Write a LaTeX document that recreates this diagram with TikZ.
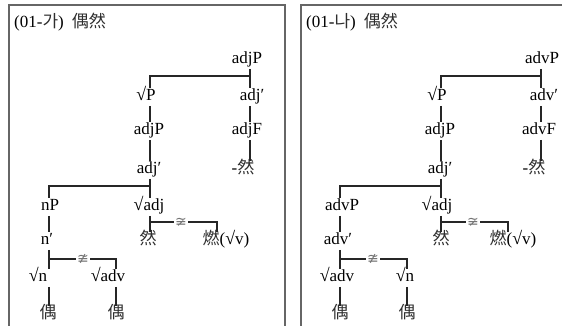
\documentclass[tikz,border=0pt]{standalone}
\usepackage{fontspec}
\setmainfont{Liberation Serif}
\newfontfamily\cjkfont{Noto Sans CJK KR}
\newfontfamily\djv{DejaVu Sans}
\newcommand\rt{{\fontsize{18}{20}\selectfont √}}
\newcommand\pr{′}
\newcommand\cj[1]{{\cjkfont\color{black!82}#1}}
\tikzset{
 lbl/.style={inner sep=1pt, text height=11.5pt, text depth=3.7pt, font=\fontsize{17}{19}\selectfont},
 ttl/.style={anchor=west, inner sep=0pt, font=\fontsize{17}{19}\selectfont},
 edge/.style={line width=1.4pt, black!85},
 neq/.style={fill=white, inner sep=1pt, text=black!55, font=\djv\fontsize{14}{15}\selectfont},
 panel/.style={draw=black!60, line width=1.1pt}
}
\begin{document}
\begin{tikzpicture}[x=1pt,y=-1pt]
\useasboundingbox (0,0) rectangle (562,325);
\clip (0,0) rectangle (562,325);
\draw[panel] (9,340) -- (9,5) -- (285,5) -- (285,340);
\draw[panel] (301,340) -- (301,5) -- (580,5) -- (580,340);

% ---------- left panel ----------
\node[ttl] (aT) at (14,22) {(01-\cj{가})\hspace{8pt}\cj{偶然}};
\coordinate (aX1) at (250,0);
\coordinate (aX2) at (150,0);
\coordinate (aX3) at (49,0);
\coordinate (aX4) at (217,0);
\coordinate (aX5) at (116,0);
\coordinate (aB1) at (0,76);
\coordinate (aB2) at (0,186);
\coordinate (aB3) at (0,222);
\coordinate (aB4) at (0,259);

\node[lbl] (aTop) at (247,60) {adjP};
\node[lbl] (aSP) at (146,97) {\rt P};
\node[lbl] (aA1) at (252,97) {adj\pr};
\node[lbl] (aAP) at (149,131) {adjP};
\node[lbl] (aAF) at (247,131) {adjF};
\node[lbl] (aA2) at (149,170) {adj\pr};
\node[lbl] (aRan) at (243,170) {-\cj{然}};
\node[lbl] (anP) at (50,207) {nP};
\node[lbl] (aSA) at (149,207) {\rt adj};
\node[lbl] (an1) at (47,241) {n\pr};
\node[lbl] (aRan2) at (148,241) {\cj{然}};
\node[lbl] (aYan) at (226,241) {\cj{燃}(\rt v)};
\node[lbl] (aSn) at (38,278) {\rt n};
\node[lbl] (aSadv) at (108,278) {\rt adv};
\node[lbl] (aOu1) at (48,315) {\cj{偶}};
\node[lbl] (aOu2) at (116,315) {\cj{偶}};

\draw[edge] (aTop.south -| aX1) -- (aA1.north -| aX1);
\draw[edge] (aX1 |- aB1) -- (aX2 |- aB1) -- (aSP.north -| aX2);
\draw[edge] (aSP.south -| aX2) -- (aAP.north -| aX2);
\draw[edge] (aA1.south -| aX1) -- (aAF.north -| aX1);
\draw[edge] (aAP.south -| aX2) -- (aA2.north -| aX2);
\draw[edge] (aAF.south -| aX1) -- (aRan.north -| aX1);
\draw[edge] (aA2.south -| aX2) -- (aSA.north -| aX2);
\draw[edge] (aX2 |- aB2) -- (aX3 |- aB2) -- (anP.north -| aX3);
\draw[edge] (anP.south -| aX3) -- (an1.north -| aX3);
\draw[edge] (aSA.south -| aX2) -- (aRan2.north -| aX2);
\draw[edge] (aX2 |- aB3) -- (aX4 |- aB3) -- (aYan.north -| aX4);
\node[neq] (aNe1) at (181,222) {≆};
\draw[edge] (an1.south -| aX3) -- (aSn.north -| aX3);
\draw[edge] (aX3 |- aB4) -- (aX5 |- aB4) -- (aSadv.north -| aX5);
\node[neq] (aNe2) at (83,259) {≇};
\draw[edge] (aSn.south -| aX3) -- (aOu1.north -| aX3);
\draw[edge] (aSadv.south -| aX5) -- (aOu2.north -| aX5);

% ---------- right panel ----------
\node[ttl] (bT) at (306,22) {(01-\cj{나})\hspace{8pt}\cj{偶然}};
\coordinate (bX1) at (541,0);
\coordinate (bX2) at (441,0);
\coordinate (bX3) at (340,0);
\coordinate (bX4) at (508,0);
\coordinate (bX5) at (407,0);

\node[lbl] (bTop) at (542,60) {advP};
\node[lbl] (bSP) at (437,97) {\rt P};
\node[lbl] (bA1) at (544,97) {adv\pr};
\node[lbl] (bAP) at (440,131) {adjP};
\node[lbl] (bAF) at (539,131) {advF};
\node[lbl] (bA2) at (440,170) {adj\pr};
\node[lbl] (bRan) at (534,170) {-\cj{然}};
\node[lbl] (bAdvP) at (342,207) {advP};
\node[lbl] (bSA) at (437,207) {\rt adj};
\node[lbl] (bAdv1) at (338,241) {adv\pr};
\node[lbl] (bRan2) at (441,241) {\cj{然}};
\node[lbl] (bYan) at (513,241) {\cj{燃}(\rt v)};
\node[lbl] (bSadv) at (337,278) {\rt adv};
\node[lbl] (bSn) at (405,278) {\rt n};
\node[lbl] (bOu1) at (340,315) {\cj{偶}};
\node[lbl] (bOu2) at (407,315) {\cj{偶}};

\draw[edge] (bTop.south -| bX1) -- (bA1.north -| bX1);
\draw[edge] (bX1 |- aB1) -- (bX2 |- aB1) -- (bSP.north -| bX2);
\draw[edge] (bSP.south -| bX2) -- (bAP.north -| bX2);
\draw[edge] (bA1.south -| bX1) -- (bAF.north -| bX1);
\draw[edge] (bAP.south -| bX2) -- (bA2.north -| bX2);
\draw[edge] (bAF.south -| bX1) -- (bRan.north -| bX1);
\draw[edge] (bA2.south -| bX2) -- (bSA.north -| bX2);
\draw[edge] (bX2 |- aB2) -- (bX3 |- aB2) -- (bAdvP.north -| bX3);
\draw[edge] (bAdvP.south -| bX3) -- (bAdv1.north -| bX3);
\draw[edge] (bSA.south -| bX2) -- (bRan2.north -| bX2);
\draw[edge] (bX2 |- aB3) -- (bX4 |- aB3) -- (bYan.north -| bX4);
\node[neq] (bNe1) at (473,222) {≆};
\draw[edge] (bAdv1.south -| bX3) -- (bSadv.north -| bX3);
\draw[edge] (bX3 |- aB4) -- (bX5 |- aB4) -- (bSn.north -| bX5);
\node[neq] (bNe2) at (373,259) {≇};
\draw[edge] (bSadv.south -| bX3) -- (bOu1.north -| bX3);
\draw[edge] (bSn.south -| bX5) -- (bOu2.north -| bX5);
\end{tikzpicture}
\end{document}
